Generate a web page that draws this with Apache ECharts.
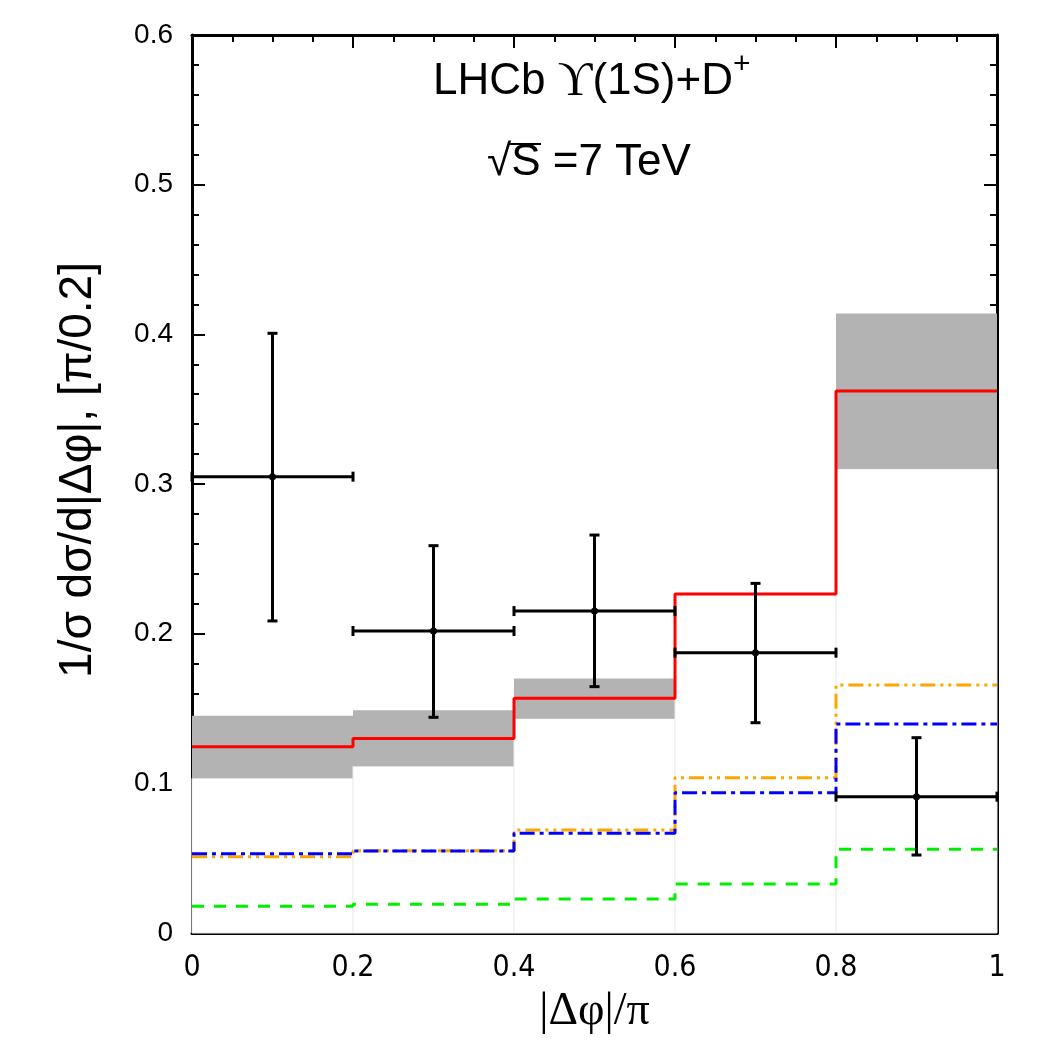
<!DOCTYPE html>
<html>
<head>
<meta charset="utf-8">
<script src="https://cdn.jsdelivr.net/npm/echarts@6/dist/echarts.min.js"></script>
<style>
  html, body { margin: 0; padding: 0; background: #fff; }
  #chart { width: 1050px; height: 1050px; }
</style>
</head>
<body>
<div id="chart"></div>
<script>
// bin edges of |dphi|/pi
const binEdges = [0, 0.2, 0.4, 0.6, 0.8, 1.0];

// theory curves (one value per bin)
const totalVals  = [0.1245, 0.130, 0.1568, 0.2265, 0.3621];
const bandLow    = [0.1034, 0.1114, 0.1432, 0.2265, 0.310];
const bandHigh   = [0.1452, 0.1488, 0.170, 0.2265, 0.414];
const orangeVals = [0.051, 0.055, 0.0688, 0.1038, 0.1657];
const blueVals   = [0.053, 0.0548, 0.0666, 0.0937, 0.1396];
const greenVals  = [0.0178, 0.0192, 0.0227, 0.0327, 0.0559];

// LHCb data
const dataX      = [0.1, 0.3, 0.5, 0.7, 0.9];
const dataY      = [0.3049, 0.2018, 0.2151, 0.1873, 0.0911];
const dataHi     = [0.4007, 0.2588, 0.2659, 0.2336, 0.1305];
const dataLo     = [0.2085, 0.1441, 0.1646, 0.1405, 0.0521];
const dataXLo    = [0.0, 0.2, 0.4, 0.6, 0.8];
const dataXHi    = [0.2, 0.4, 0.6, 0.8, 1.0];

function stepData(vals) {
  return binEdges.map((x, i) => [x, vals[Math.min(i, vals.length - 1)]]);
}

const chart = echarts.init(document.getElementById('chart'));

const sansFont = 'Liberation Sans, Arial, sans-serif';
const serifFont = 'Liberation Serif, serif';

function stepLine(name, vals, color, type, z) {
  return {
    name: name,
    type: 'line',
    step: 'end',
    data: stepData(vals),
    symbol: 'none',
    z: z,
    lineStyle: { color: color, width: 3, type: type }
  };
}

function frameAxis(extra) {
  return Object.assign({
    type: 'value',
    axisLine: { onZero: false, lineStyle: { color: '#000', width: 3 } },
    axisTick: { inside: true, length: 13, lineStyle: { color: '#000', width: 2 } },
    splitLine: { show: false }
  }, extra);
}

const option = {
  animation: false,
  grid: { left: 192, right: 53, top: 35, bottom: 117, outerBoundsMode: 'none' },
  xAxis: [
    frameAxis({
      min: 0, max: 1, interval: 0.2,
      name: '|\u0394\u03c6|/\u03c0', nameLocation: 'middle', nameGap: 56,
      nameTextStyle: { fontFamily: serifFont, fontSize: 46, color: '#000' },
      minorTick: { show: true, splitNumber: 4, length: 7, lineStyle: { color: '#000', width: 2 } },
      axisLabel: {
        margin: 20, fontSize: 30, color: '#000',
        fontFamily: 'Liberation Sans Narrow, DejaVu Sans Condensed, Liberation Sans, sans-serif',
        formatter: v => String(+v.toFixed(1))
      }
    }),
    frameAxis({
      min: 0, max: 1, interval: 0.2, position: 'top',
      minorTick: { show: true, splitNumber: 4, length: 7, lineStyle: { color: '#000', width: 2 } },
      axisLabel: { show: false }
    })
  ],
  yAxis: [
    frameAxis({
      min: 0, max: 0.6, interval: 0.1,
      minorTick: { show: true, splitNumber: 5, length: 7, lineStyle: { color: '#000', width: 2 } },
      axisLabel: {
        margin: 19, fontSize: 28, color: '#000', fontFamily: sansFont,
        formatter: v => String(+v.toFixed(1))
      }
    }),
    frameAxis({
      min: 0, max: 0.6, interval: 0.1, position: 'right',
      minorTick: { show: true, splitNumber: 5, length: 7, lineStyle: { color: '#000', width: 2 } },
      axisLabel: { show: false }
    })
  ],
  graphic: [
    {
      // y axis title
      type: 'text', x: 78, y: 470, rotation: Math.PI / 2, z: 100,
      style: {
        text: '1/\u03c3 d\u03c3/d|\u0394\u03c6|, [\u03c0/0.2]',
        fontFamily: sansFont, fontSize: 46, fill: '#000',
        align: 'center', verticalAlign: 'middle'
      }
    },
    {
      type: 'text', left: 433, top: 58, z: 100,
      style: {
        text: '{a|LHCb }{u|\u03d2}{a|(1S)+D}',
        rich: {
          a: { fontFamily: sansFont, fontSize: 44, fill: '#000' },
          u: { fontFamily: serifFont, fontSize: 48, fill: '#000' }
        }
      }
    },
    {
      type: 'text', left: 733, top: 50, z: 100,
      style: { text: '+', fontFamily: sansFont, fontSize: 30, fill: '#000' }
    },
    {
      type: 'text', left: 487, top: 141, z: 100,
      style: { text: '\u221aS =7 TeV', fontFamily: sansFont, fontSize: 44, fill: '#000' }
    },
    {
      // overbar of the square root
      type: 'line', z: 100,
      shape: { x1: 509, y1: 144, x2: 541, y2: 144 },
      style: { stroke: '#000', lineWidth: 2 }
    }
  ],
  series: [
    {
      name: 'band',
      type: 'custom',
      z: 1,
      data: bandLow.map((lo, i) => [binEdges[i], binEdges[i + 1], lo, bandHigh[i]]),
      encode: { x: [0, 1], y: [2, 3] },
      renderItem: function (params, api) {
        const x0 = api.value(0), x1 = api.value(1);
        const lo = api.value(2), hi = api.value(3);
        const pBase = api.coord([x0, 0]);
        const pLo = api.coord([x1, lo]);
        const pHi = api.coord([x0, hi]);
        return {
          type: 'group',
          children: [
            {
              type: 'rect',
              shape: { x: pBase[0], y: pLo[1], width: pLo[0] - pBase[0], height: pBase[1] - pLo[1] },
              style: { fill: '#fff', stroke: '#ececec', lineWidth: 1 }
            },
            {
              type: 'rect',
              shape: { x: pHi[0], y: pHi[1], width: pLo[0] - pHi[0], height: pLo[1] - pHi[1] },
              style: { fill: '#b3b3b3' }
            }
          ]
        };
      }
    },
    stepLine('green', greenVals, '#00ee00', [12, 10], 3),
    stepLine('orange', orangeVals, '#ffa500', [15, 5, 3, 5, 3, 5], 4),
    stepLine('blue', blueVals, '#0000ff', [15, 5, 4, 5], 5),
    stepLine('total', totalVals, '#ff0000', 'solid', 6),
    {
      name: 'LHCb',
      type: 'custom',
      z: 10,
      data: dataX.map((x, i) => [x, dataY[i], dataLo[i], dataHi[i], dataXLo[i], dataXHi[i]]),
      encode: { x: 0, y: 1 },
      renderItem: function (params, api) {
        const c = api.coord([api.value(0), api.value(1)]);
        const lo = api.coord([api.value(0), api.value(2)]);
        const hi = api.coord([api.value(0), api.value(3)]);
        const xl = api.coord([api.value(4), api.value(1)]);
        const xr = api.coord([api.value(5), api.value(1)]);
        const st = { stroke: '#000', lineWidth: 3 };
        const cap = 5;
        return {
          type: 'group',
          children: [
            { type: 'line', shape: { x1: lo[0], y1: lo[1], x2: hi[0], y2: hi[1] }, style: st },
            { type: 'line', shape: { x1: xl[0], y1: xl[1], x2: xr[0], y2: xr[1] }, style: st },
            { type: 'line', shape: { x1: lo[0] - cap, y1: lo[1], x2: lo[0] + cap, y2: lo[1] }, style: st },
            { type: 'line', shape: { x1: hi[0] - cap, y1: hi[1], x2: hi[0] + cap, y2: hi[1] }, style: st },
            { type: 'line', shape: { x1: xl[0], y1: xl[1] - cap, x2: xl[0], y2: xl[1] + cap }, style: st },
            { type: 'line', shape: { x1: xr[0], y1: xr[1] - cap, x2: xr[0], y2: xr[1] + cap }, style: st },
            { type: 'circle', shape: { cx: c[0], cy: c[1], r: 3.5 }, style: { fill: '#000' } }
          ]
        };
      }
    }
  ]
};

chart.setOption(option);
</script>
</body>
</html>
